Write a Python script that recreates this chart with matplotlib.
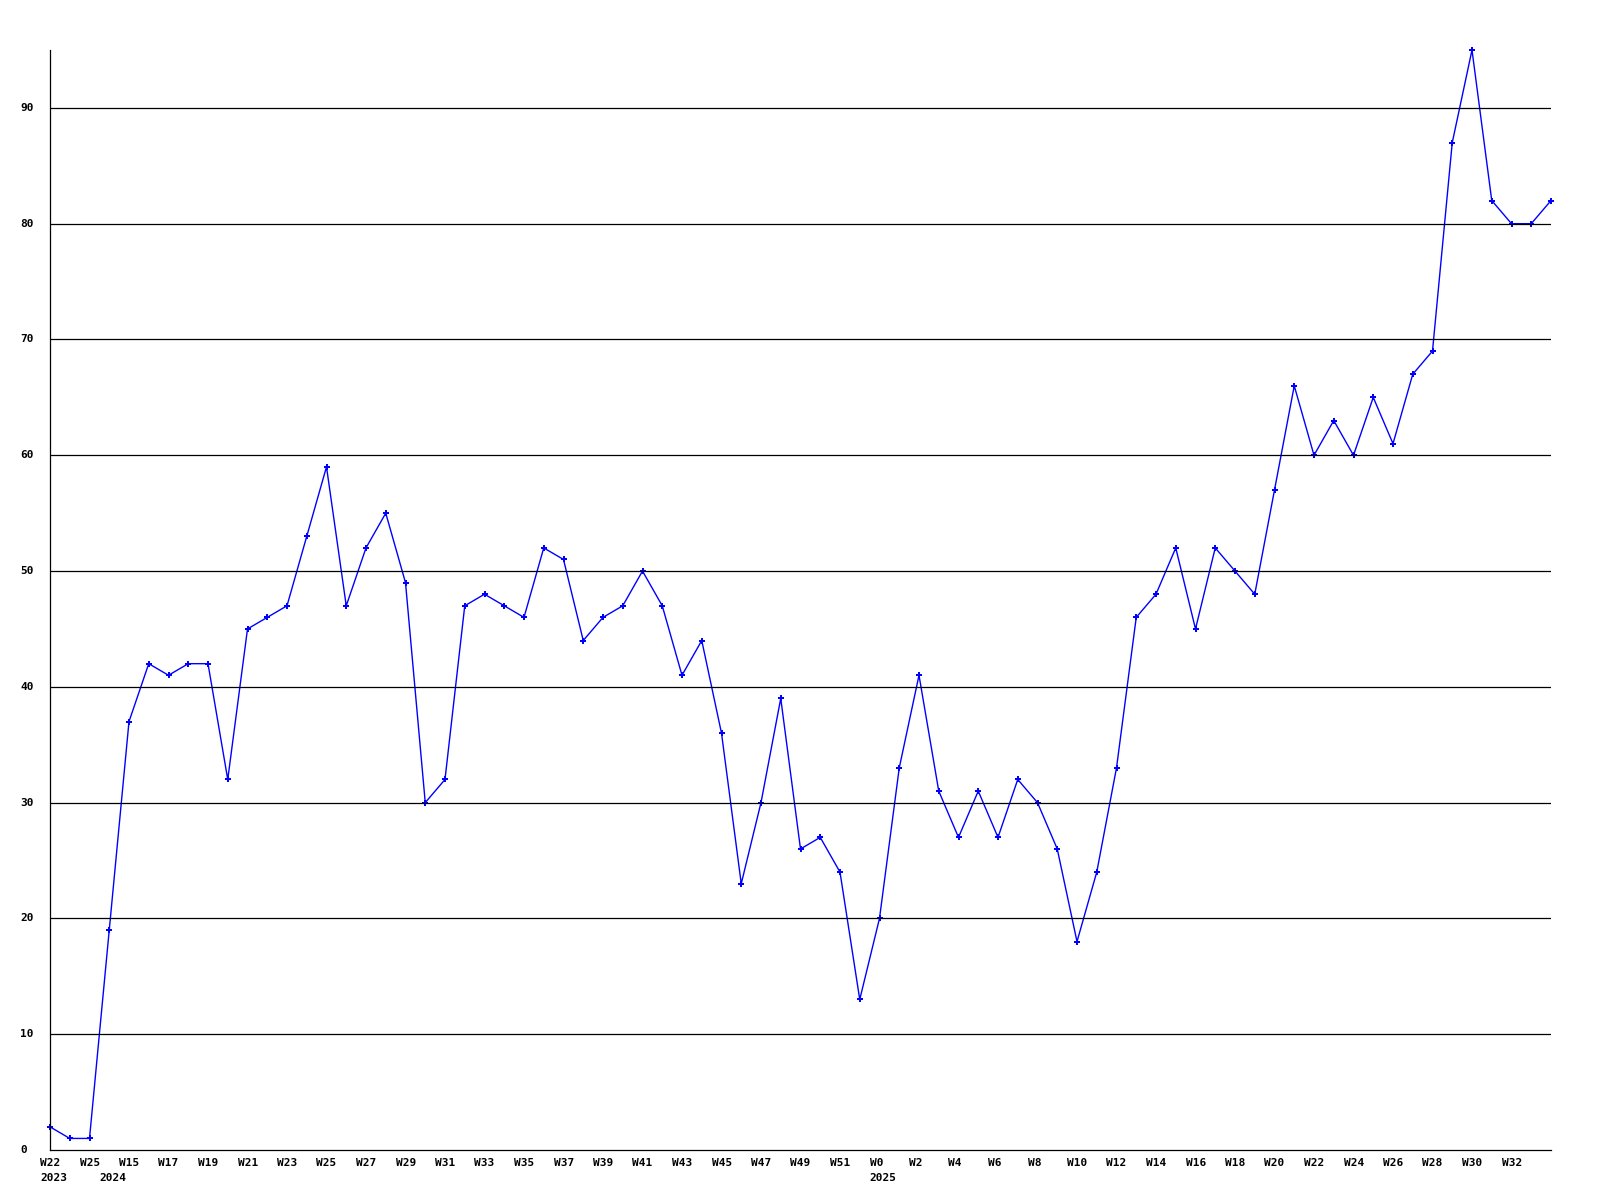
import numpy as np
import matplotlib
matplotlib.use('Agg')
import matplotlib.pyplot as plt

# weekly values, one per point
VALUES = [2, 1, 1, 19, 37, 42, 41, 42, 42, 32,
          45, 46, 47, 53, 59, 47, 52, 55, 49, 30,
          32, 47, 48, 47, 46, 52, 51, 44, 46, 47,
          50, 47, 41, 44, 36, 23, 30, 39, 26, 27,
          24, 13, 20, 33, 41, 31, 27, 31, 27, 32,
          30, 26, 18, 24, 33, 46, 48, 52, 45, 52,
          50, 48, 57, 66, 60, 63, 60, 65, 61, 67,
          69, 87, 95, 82, 80, 80, 82]

# week labels on every other point
WEEK_LABELS = ['W22', 'W25', 'W15', 'W17', 'W19', 'W21', 'W23', 'W25', 'W27', 'W29',
               'W31', 'W33', 'W35', 'W37', 'W39', 'W41', 'W43', 'W45', 'W47', 'W49',
               'W51', 'W0', 'W2', 'W4', 'W6', 'W8', 'W10', 'W12', 'W14', 'W16',
               'W18', 'W20', 'W22', 'W24', 'W26', 'W28', 'W30', 'W32']

# year labels: point index where the year starts
YEAR_POS = [0, 3, 42]
YEAR_LABELS = ['2023', '2024', '2025']

Y_TICKS = list(range(0, 100, 10))

x = np.arange(len(VALUES))

fig = plt.figure(figsize=(16, 12), dpi=100)
ax = fig.add_axes([50 / 1600, 50 / 1200, 1501 / 1600, 1100 / 1200])

ax.plot(x, VALUES, color='#0000ff', linewidth=1.0, marker='P',
        markersize=4.5, markeredgewidth=0, zorder=2, clip_on=False)

# black gridlines drawn over the data
for v in Y_TICKS[1:]:
    ax.axhline(v, color='black', linewidth=0.9, zorder=3)

ax.set_xlim(0, len(VALUES) - 1)
ax.set_ylim(0, max(VALUES))

for s in ['top', 'right']:
    ax.spines[s].set_visible(False)
for s in ['left', 'bottom']:
    ax.spines[s].set_linewidth(0.9)
    ax.spines[s].set_zorder(4)

ax.set_xticks([])
ax.set_yticks([])

font = dict(family='DejaVu Sans Mono', fontweight='bold', fontsize=8, color='black')

# y labels, left aligned near the figure edge
for v in Y_TICKS:
    ax.annotate(str(v), xy=(0, v), xycoords=('axes fraction', 'data'),
                xytext=(-30, 0), textcoords='offset pixels',
                ha='left', va='center', **font)

# x labels, left aligned 10 px before the point
for i, lab in enumerate(WEEK_LABELS):
    ax.annotate(lab, xy=(2 * i, 0), xycoords=('data', 'axes fraction'),
                xytext=(-10, -8), textcoords='offset pixels',
                ha='left', va='top', **font)

for pos, lab in zip(YEAR_POS, YEAR_LABELS):
    ax.annotate(lab, xy=(pos, 0), xycoords=('data', 'axes fraction'),
                xytext=(-10, -23), textcoords='offset pixels',
                ha='left', va='top', **font)

fig.savefig('out.png', dpi=100, facecolor='white')
